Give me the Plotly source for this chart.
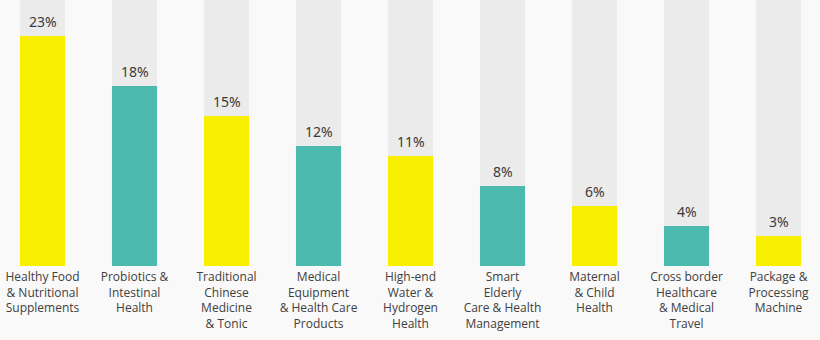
import plotly.graph_objects as go

categories = [
    "Healthy Food<br>& Nutritional<br>Supplements",
    "Probiotics &<br>Intestinal<br>Health",
    "Traditional<br>Chinese<br>Medicine<br>& Tonic",
    "Medical<br>Equipment<br>& Health Care<br>Products",
    "High-end<br>Water &<br>Hydrogen<br>Health",
    "Smart<br>Elderly<br>Care & Health<br>Management",
    "Maternal<br>& Child<br>Health",
    "Cross border<br>Healthcare<br>& Medical<br>Travel",
    "Package &<br>Processing<br>Machine",
]
values = [23, 18, 15, 12, 11, 8, 6, 4, 3]
labels = [f"{v}%" for v in values]
colors = ["#f9ef00", "#4dbab0"] * 5
colors = colors[:len(values)]

y_top = 26.6
xs = list(range(len(values)))
bar_w = 0.49

fig = go.Figure()
fig.add_trace(go.Bar(x=xs, y=[y_top] * len(values), width=bar_w,
                     marker=dict(color="#ebebeb", line=dict(width=0)),
                     hoverinfo="skip", showlegend=False))
fig.add_trace(go.Bar(x=xs, y=values, width=bar_w,
                     marker=dict(color=colors, line=dict(width=0)),
                     showlegend=False))

for x, v, t in zip(xs, values, labels):
    fig.add_annotation(x=x, y=v, text=t, showarrow=False, yanchor="bottom",
                       yshift=3, font=dict(size=14, color="#3a3a3a",
                                           family="Noto Sans"))

fig.update_layout(
    width=820, height=340,
    margin=dict(l=0, r=0, t=0, b=74),
    barmode="overlay",
    paper_bgcolor="#f9f9f9", plot_bgcolor="#f9f9f9",
    font=dict(family="Open Sans", color="#404040", size=12),
)
fig.update_xaxes(range=[-0.462, 8.451], tickvals=xs, ticktext=categories,
                 showgrid=False, zeroline=False, showline=False, ticks="",
                 ticklabelstandoff=2,
                 tickfont=dict(size=12, color="#404040"), tickangle=0)
fig.update_yaxes(range=[0, y_top], visible=False, showgrid=False)

fig.write_html("out.html")
